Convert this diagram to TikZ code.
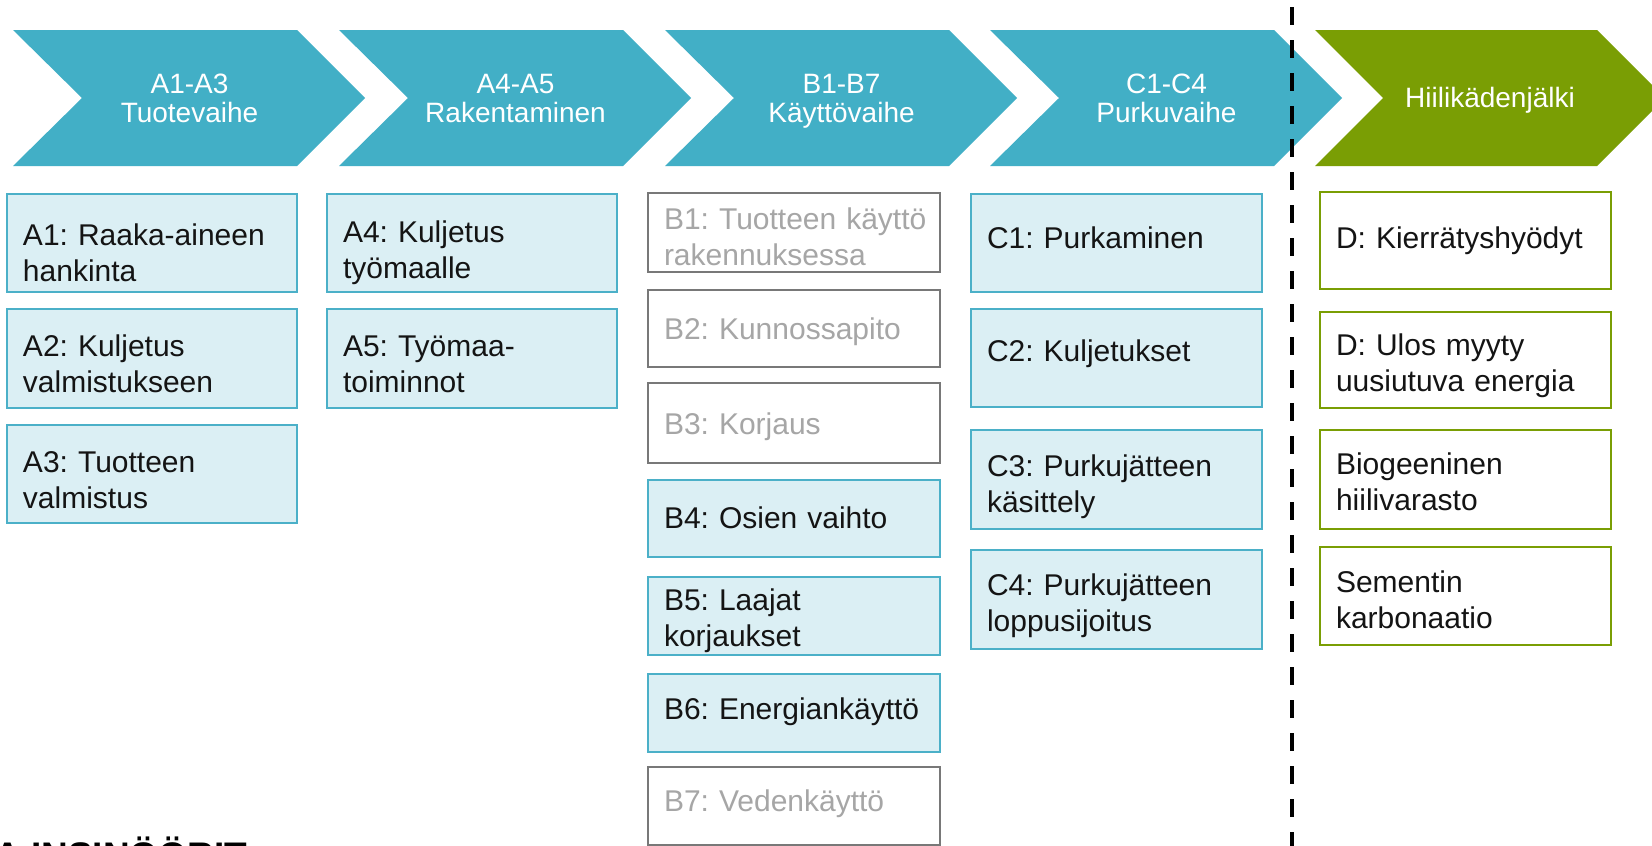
\documentclass[tikz,border=0pt]{standalone}
\usepackage{fontspec}
\setmainfont{Liberation Sans}
\definecolor{chevblue}{RGB}{66,175,198}
\definecolor{boxblue}{RGB}{75,176,200}
\definecolor{lightblue}{RGB}{219,239,244}
\definecolor{chevgreen}{RGB}{122,158,4}
\definecolor{boxgray}{RGB}{120,120,120}
\definecolor{txtgray}{RGB}{166,166,166}
\definecolor{txtdark}{RGB}{20,20,20}
\newcommand\cellbody[3]{\rule{0pt}{#1pt}#3\rule[-#2pt]{0pt}{#2pt}}
\begin{document}
\begin{tikzpicture}[x=1pt,y=-1pt,
  cell/.style={anchor=north west, outer sep=0pt, inner xsep=16pt, inner ysep=0pt,
    align=left, line width=2.5pt, font=\fontsize{30}{36}\selectfont\frenchspacing},
  bluecell/.style={cell, draw=boxblue, fill=lightblue, text=txtdark},
  graycell/.style={cell, draw=boxgray, fill=white, text=txtgray},
  greencell/.style={cell, draw=chevgreen, fill=white, text=txtdark},
  colA/.style={minimum width=290pt, text width=258pt},
  colB/.style={minimum width=292pt, text width=260pt},
  colC/.style={minimum width=291pt, text width=259pt},
  chevtext/.style={text=white, align=center, inner sep=0pt, font=\fontsize{28}{28}\selectfont},
  dashline/.style={line width=4pt, draw=black, dash pattern=on 18pt off 15pt}
]
\clip (0,0) rectangle (1652,846);
\fill[white] (0,0) rectangle (1652,846);

% chevrons
\foreach \L in {13,339,665,990}{
  \fill[chevblue] (\L,30) -- (\L+284,30) -- (\L+352,98) -- (\L+284,166) -- (\L,166) -- (\L+69,98) -- cycle;
}
\fill[chevgreen] (1315,30) -- (1597,30) -- (1665,98) -- (1597,166) -- (1315,166) -- (1383,98) -- cycle;
\node[chevtext] (p1) at (189.5,102.4) {A1-A3\strut\\Tuotevaihe\strut};
\node[chevtext] (p2) at (515.5,102.4) {A4-A5\strut\\Rakentaminen\strut};
\node[chevtext] (p3) at (841.5,102.4) {B1-B7\strut\\Käyttövaihe\strut};
\node[chevtext] (p4) at (1166.5,102.4) {C1-C4\strut\\Purkuvaihe\strut};
\node[chevtext] (p5) at (1490,102) {Hiilikädenjälki\strut};

% column A
\node[bluecell, colA, minimum height=98pt] (a1) at (7,194) {\cellbody{47}{7}{A1:~Raaka-aineen\\hankinta}};
\node[bluecell, colA, minimum height=99pt] (a2) at (7,309) {\cellbody{38}{7}{A2:~Kuljetus\\valmistukseen}};
\node[bluecell, colA, minimum height=98pt] (a3) at (7,425) {\cellbody{39}{7}{A3:~Tuotteen\\valmistus}};
% column A4-A5
\node[bluecell, colA, minimum height=98pt] (a4) at (327,194) {\cellbody{41}{7}{A4:~Kuljetus\\työmaalle}};
\node[bluecell, colA, minimum height=99pt] (a5) at (327,309) {\cellbody{38}{7}{A5:~Työmaa-\\toiminnot}};
% column B
\node[graycell, colB, minimum height=79pt] (b1) at (648,193) {\cellbody{36}{6}{\mbox{B1: Tuotteen käyttö}\\rakennuksessa}};
\node[graycell, colB, minimum height=77pt] (b2) at (648,290) {\cellbody{28}{7}{B2:~Kunnossapito}};
\node[graycell, colB, minimum height=80pt] (b3) at (648,383) {\cellbody{29}{7}{B3:~Korjaus}};
\node[bluecell, colB, minimum height=77pt] (b4) at (648,480) {\cellbody{26}{7}{B4:~Osien~vaihto}};
\node[bluecell, colB, minimum height=78pt] (b5) at (648,577) {\cellbody{31}{7}{B5:~Laajat\\korjaukset}};
\node[bluecell, colB, minimum height=78pt] (b6) at (648,674) {\cellbody{27}{15}{B6:~Energiankäyttö}};
\node[graycell, colB, minimum height=78pt] (b7) at (648,767) {\cellbody{25}{15}{B7:~Vedenkäyttö}};
% column C
\node[bluecell, colC, minimum height=98pt] (c1) at (971,194) {\cellbody{27}{17}{C1:~Purkaminen}};
\node[bluecell, colC, minimum height=98pt] (c2) at (971,309) {\cellbody{25}{19}{C2:~Kuljetukset}};
\node[bluecell, colC, minimum height=99pt] (c3) at (971,430) {\cellbody{36}{7}{C3:~Purkujätteen\\käsittely}};
\node[bluecell, colC, minimum height=99pt] (c4) at (971,550) {\cellbody{34}{7}{C4:~Purkujätteen\\loppusijoitus}};
% column D
\node[greencell, colC, minimum height=97pt] (d1) at (1320,192) {\cellbody{25}{10}{D:~Kierrätyshyödyt}};
\node[greencell, colC, minimum height=96pt] (d2) at (1320,312) {\cellbody{33}{7}{D:~Ulos~myyty\\uusiutuva~energia}};
\node[greencell, colC, minimum height=99pt] (d3) at (1320,430) {\cellbody{32}{7}{Biogeeninen\\hiilivarasto}};
\node[greencell, colC, minimum height=98pt] (d4) at (1320,547) {\cellbody{35}{7}{Sementin\\karbonaatio}};

% logo text (cut off at bottom)
\node[anchor=base west, inner sep=0pt, font=\fontsize{37}{40}\selectfont\bfseries] (logo) at (-6,868) {A INSINÖÖRIT};

% dashed divider
\coordinate (dtop) at (1292,7);
\coordinate (dbot) at (1292,860);
\draw[dashline] (dtop) -- (dbot);
\end{tikzpicture}
\end{document}
